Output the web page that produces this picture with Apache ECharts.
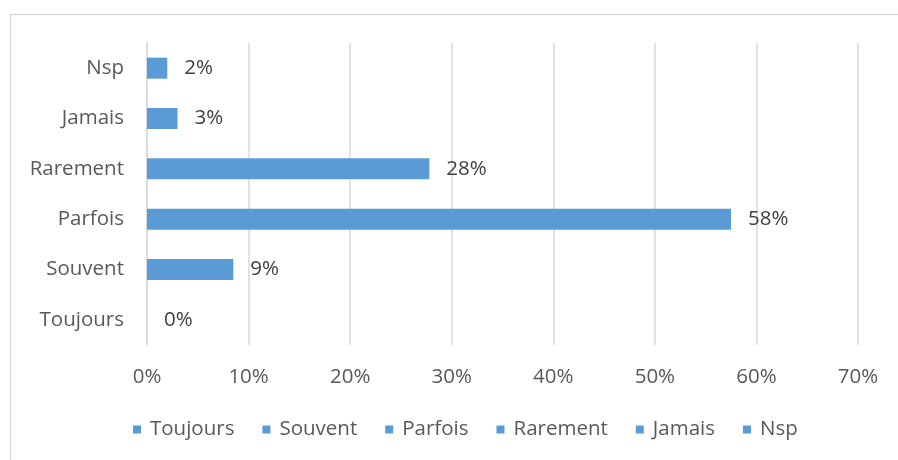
<!DOCTYPE html>
<html><head><meta charset="utf-8">
<script src="https://cdn.jsdelivr.net/npm/echarts@6/dist/echarts.min.js"></script>
<style>html,body{margin:0;padding:0;background:#fff}#c{width:898px;height:460px}</style>
</head><body><div id="c"></div>
<script>
const categories = ['Toujours', 'Souvent', 'Parfois', 'Rarement', 'Jamais', 'Nsp'];
const values = [0, 8.5, 57.5, 27.8, 3.0, 2.0];
const xTicks = [0, 10, 20, 30, 40, 50, 60, 70];

const FONT = 'Open Sans';
const FS = 20.5;
const chart = echarts.init(document.getElementById('c'));
const series = categories.map((name, i) => ({
  name: name,
  type: 'bar',
  barWidth: 21,
  barGap: '-100%',
  itemStyle: { color: '#5B9BD5' },
  label: {
    show: true, position: 'right', distance: 17,
    color: '#404040', fontFamily: FONT, fontSize: FS,
    formatter: p => Math.round(p.value) + '%'
  },
  data: categories.map((c, j) => j === i ? values[i] : '-')
}));
chart.setOption({
  animation: false,
  textStyle: { fontFamily: FONT },
  graphic: [{ type: 'rect', shape: { x: 10.5, y: 14.5, width: 900, height: 460 },
    style: { fill: 'none', stroke: '#d9d9d9', lineWidth: 1.5 }, silent: true }],
  grid: { left: 147, right: 40, top: 43, bottom: 115 },
  xAxis: {
    type: 'value', min: xTicks[0], max: xTicks[xTicks.length - 1], interval: 10,
    axisLine: { show: false }, axisTick: { show: false },
    splitLine: { lineStyle: { color: '#d9d9d9', width: 1.5 } },
    axisLabel: { color: '#595959', fontSize: FS, margin: 22, fontFamily: FONT, formatter: v => v + '%' }
  },
  yAxis: {
    type: 'category', data: categories,
    axisLine: { lineStyle: { color: '#d9d9d9', width: 1.5 } },
    axisTick: { length: 6, lineStyle: { color: '#d9d9d9', width: 1.5 } },
    axisLabel: { color: '#595959', fontSize: FS, margin: 23, fontFamily: FONT }
  },
  legend: {
    left: 128, top: 414, icon: 'rect', itemWidth: 8, itemHeight: 8, itemGap: 28,
    textStyle: { color: '#595959', fontSize: FS, fontFamily: FONT, padding: [0, 0, 0, 4] },
    data: categories
  },
  series: series
});
</script></body></html>
